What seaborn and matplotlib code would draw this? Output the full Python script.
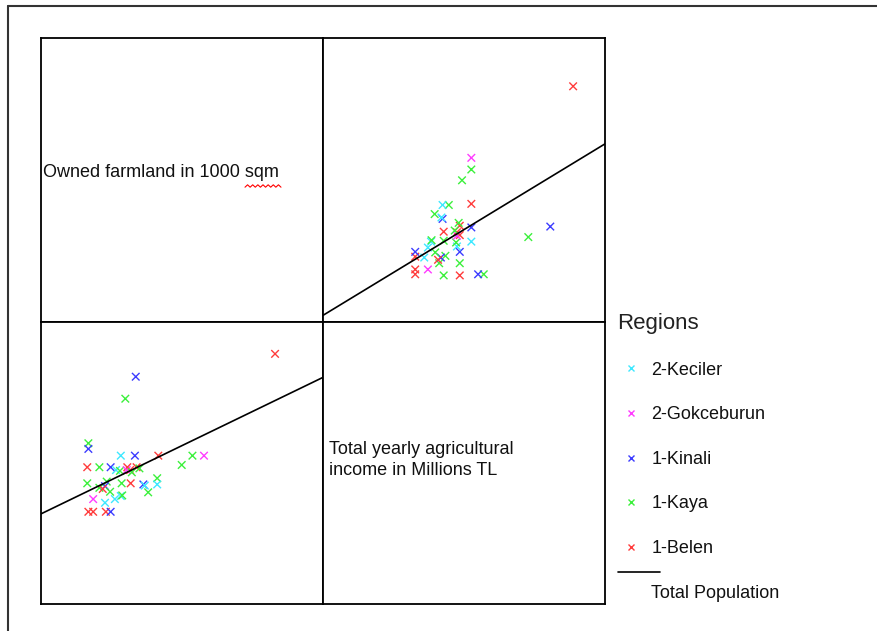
import matplotlib
matplotlib.use("Agg")
import matplotlib.pyplot as plt
from matplotlib.lines import Line2D
import numpy as np
import pandas as pd
import seaborn as sns

sns.set_style("white")
plt.rcParams['font.family'] = ['Liberation Sans', 'DejaVu Sans']

regions = ["2-Keciler", "2-Gokceburun", "1-Kinali", "1-Kaya", "1-Belen"]
region_colors = ["#3ee8ff", "#ff3cff", "#3c3cff", "#3cf03c", "#ff3c3c"]

# one entry per household (no axis scale shown)
region = ["1-Belen", "1-Kinali", "1-Kaya", "1-Kaya", "1-Kinali",
          "2-Keciler", "1-Kinali", "1-Belen", "1-Kaya", "2-Gokceburun",
          "1-Kaya", "1-Belen", "1-Kaya", "1-Kinali", "2-Keciler",
          "1-Kaya", "1-Belen", "2-Gokceburun", "1-Belen", "1-Belen",
          "1-Kaya", "1-Kaya", "1-Kaya", "1-Kaya", "1-Kaya",
          "1-Kaya", "1-Belen", "1-Kinali", "2-Keciler", "1-Kaya",
          "1-Kinali", "1-Belen", "1-Kaya", "1-Kaya", "2-Keciler",
          "2-Keciler", "2-Gokceburun", "2-Keciler", "1-Belen", "1-Belen",
          "1-Belen", "1-Kinali", "1-Kaya", "2-Keciler"]
farmland = [83.0, 33.6, 29.9, 16.8, 16.8,
            28.3, 33.3, 41.6, 53.7, 57.8,
            49.9, 16.4, 20.7, 24.7, 26.6,
            28.0, 30.6, 30.4, 31.6, 33.9,
            34.9, 32.2, 41.2, 16.4, 23.3,
            28.6, 31.8, 36.3, 41.2, 20.7,
            22.7, 21.9, 24.5, 38.0, 28.3,
            26.2, 18.5, 22.7, 16.8, 18.5,
            23.0, 24.7, 28.8, 36.8]
income = [88.7, 80.6, 72.8, 57.0, 55.0,
          52.6, 52.6, 52.6, 52.6, 52.6,
          49.3, 48.5, 48.5, 48.5, 47.5,
          47.2, 48.5, 47.5, 47.5, 48.5,
          48.1, 46.7, 44.6, 42.8, 43.4,
          42.8, 42.8, 42.4, 42.4, 41.2,
          41.8, 40.8, 39.8, 39.6, 38.3,
          37.2, 37.2, 35.9, 32.7, 32.7,
          32.7, 32.7, 38.5, 42.0]

df = pd.DataFrame({"region": region, "farmland": farmland, "income": income})

W, H = 877, 631
fig = plt.figure(figsize=(W / 100, H / 100), dpi=100)

def box(x0, y0, x1, y1):
    return [x0 / W, 1 - y1 / H, (x1 - x0) / W, (y1 - y0) / H]

ax_ul = fig.add_axes(box(41, 38, 323, 322))
ax_ur = fig.add_axes(box(323, 38, 605, 322))
ax_ll = fig.add_axes(box(41, 322, 323, 604))
ax_lr = fig.add_axes(box(323, 322, 605, 604))

for ax in (ax_ul, ax_ur, ax_ll, ax_lr):
    ax.set_xticks([])
    ax.set_yticks([])
    for sp in ax.spines.values():
        sp.set_color("black")
        sp.set_linewidth(1.3)

lim = (0, 100)

# lower left: income vs farmland
ax_ll.set_xlim(lim)
ax_ll.set_ylim(lim)
sns.scatterplot(data=df, x="farmland", y="income", hue="region", hue_order=regions,
                palette=region_colors, marker="x", s=30, linewidth=1, legend=False, ax=ax_ll)
sns.regplot(data=df, x="farmland", y="income", scatter=False, ci=None, truncate=False,
            color="black", line_kws={"lw": 1.2}, ax=ax_ll)

# upper right: farmland vs income
ax_ur.set_xlim(lim)
ax_ur.set_ylim(lim)
sns.scatterplot(data=df, x="income", y="farmland", hue="region", hue_order=regions,
                palette=region_colors, marker="x", s=30, linewidth=1, legend=False, ax=ax_ur)
sns.regplot(data=df, x="income", y="farmland", scatter=False, ci=None, truncate=False,
            color="black", line_kws={"lw": 1.2}, ax=ax_ur)

for ax in (ax_ll, ax_ur):
    ax.set_xlim(lim)
    ax.set_ylim(lim)
    ax.set_xlabel("")
    ax.set_ylabel("")
    ax.set_xticks([])
    ax.set_yticks([])

# diagonal labels
ax_ul.text(0.007, 0.525, "Owned farmland in 1000 sqm", fontsize=13, va="center", ha="left",
           transform=ax_ul.transAxes, color="#111111")
# spell check squiggle under "sqm"
sx = np.linspace(245, 281, 15)
sy = 186 + np.where(np.arange(15) % 2 == 0, 1.2, -1.2)
fig.add_artist(Line2D(sx / W, 1 - sy / H, transform=fig.transFigure, color="red", lw=0.8))

ax_lr.text(0.021, 0.51, "Total yearly agricultural\nincome in Millions TL", fontsize=13,
           va="center", ha="left", linespacing=1.35, transform=ax_lr.transAxes, color="#111111")

# legend
handles = [Line2D([], [], marker="x", linestyle="", color=c, markersize=4, mew=1)
           for c in region_colors]
leg = fig.legend(handles, regions, title="Regions", loc="upper left",
                 bbox_to_anchor=(617 / W, 1 - 313 / H), frameon=False, fontsize=13,
                 title_fontsize=16, labelspacing=1.53, handlelength=1.6, handletextpad=0.3,
                 borderpad=0, borderaxespad=0, alignment="left")
for t in leg.get_texts():
    t.set_color("#111111")
leg.get_title().set_color("#222222")

fig.add_artist(Line2D([618 / W, 660 / W], [1 - 572 / H] * 2, transform=fig.transFigure,
                      color="black", lw=1.2))
fig.text(651 / W, 1 - 593 / H, "Total Population", fontsize=13, va="center", ha="left",
         color="#111111")

# outer frame (top and left only)
fig.add_artist(Line2D([8 / W, 1], [1 - 6 / H] * 2, transform=fig.transFigure, color="#333333", lw=1.5))
fig.add_artist(Line2D([8 / W, 8 / W], [1 - 6 / H, 0], transform=fig.transFigure, color="#333333", lw=1.5))

fig.savefig("out.png", dpi=100)
